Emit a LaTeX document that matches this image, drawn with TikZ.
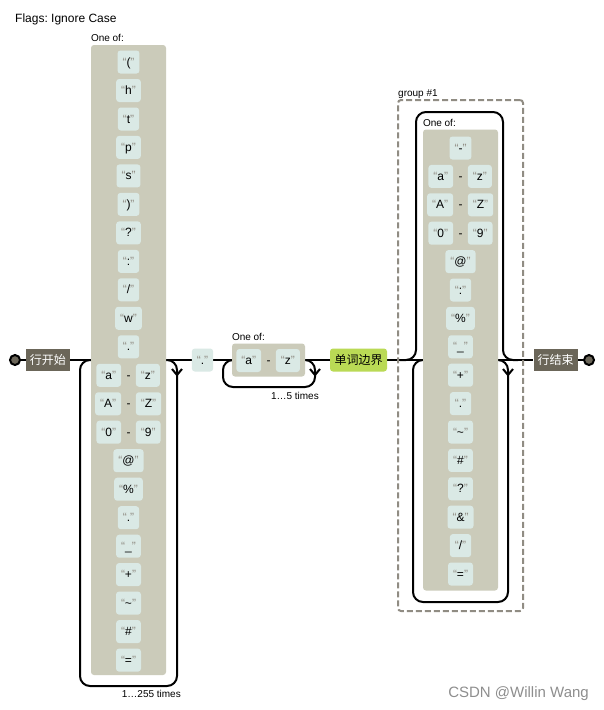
\documentclass[tikz,border=0pt]{standalone}
\usepackage{fontspec}
\setmainfont{Liberation Sans}
\newfontfamily\cjkfont{Noto Sans CJK SC}
\usetikzlibrary{calc}
\definecolor{charsetc}{HTML}{CBCBBA}
\definecolor{litc}{HTML}{DAE9E5}
\definecolor{anchorc}{HTML}{6B6659}
\definecolor{escc}{HTML}{BADA55}
\definecolor{quotec}{HTML}{908C83}
\definecolor{grpc}{HTML}{908C83}
\definecolor{wmc}{HTML}{8E8E8E}
\newcommand\qt[1]{{\color{quotec}“}#1{\color{quotec}”}}
\pgfdeclarelayer{bg}
\pgfsetlayers{bg,main}
\frenchspacing
\newcommand\rng[5]{%
  \node[dashn] (#1d) at (#2,#3) {-};
  \node[lit, anchor=east] (#1a) at ([xshift=-5pt]#1d.west) {\qt{#4}};
  \node[lit, anchor=west] (#1b) at ([xshift=5pt]#1d.east) {\qt{#5}};
}
\begin{document}
\begin{tikzpicture}[x=1pt,y=-1pt,
  line/.style={line width=2pt, draw=black},
  lit/.style={fill=litc, rounded corners=3pt, inner xsep=5pt, inner ysep=0pt,
    minimum height=23pt, text height=10pt, text depth=2pt,
    font=\fontsize{12}{14}\selectfont},
  dashn/.style={inner sep=0pt, text height=10pt, text depth=2pt,
    font=\fontsize{12}{14}\selectfont},
  charset/.style={fill=charsetc, rounded corners=3pt, inner sep=0pt},
  lbl/.style={inner sep=0pt, font=\fontsize{10}{12}\selectfont},
  anchorbox/.style={fill=anchorc, text=white, inner xsep=4pt, inner ysep=0pt,
    minimum height=22pt, text height=10pt, text depth=2pt,
    font=\cjkfont\fontsize{12}{14}\selectfont},
  escbox/.style={fill=escc, rounded corners=3pt, inner xsep=4.5pt, inner ysep=0pt,
    minimum height=23pt, text height=10pt, text depth=2pt,
    font=\cjkfont\fontsize{12}{14}\selectfont},
  endcirc/.style={circle, fill=anchorc, draw=black, line width=2pt,
    minimum size=10pt, inner sep=0pt},
  chev/.style={line width=2pt, draw=black}]

\begin{pgfonlayer}{bg}
\fill[white] (0,0) rectangle (604,710);
\end{pgfonlayer}
\useasboundingbox (0,0) rectangle (604,710);

% title
\node[anchor=base west, inner sep=0pt, font=\fontsize{12}{14}\selectfont] (flags) at (15,22) {Flags: Ignore Case};

% start / end
\node[endcirc] (startc) at (15,360) {};
\node[anchorbox] (s1) at (48,360) {行开始};
\node[anchorbox] (e1) at (555.5,360) {行结束};
\node[endcirc] (endc) at (589,360) {};

% ---------- left charset ----------
\node[charset, minimum width=75pt, minimum height=630pt] (G1) at (128.5,360) {};
\node[lbl, anchor=base west] (G1l) at ([yshift=3pt]G1.north west) {One of:};
\node[lit] (L0) at (128.5,62) {\qt{(}};
\node[lit] (L1) at (128.5,90.5) {\qt{h}};
\node[lit] (L2) at (128.5,119) {\qt{t}};
\node[lit] (L3) at (128.5,147.4) {\qt{p}};
\node[lit] (L4) at (128.5,175.9) {\qt{s}};
\node[lit] (L5) at (128.5,204.4) {\qt{)}};
\node[lit] (L6) at (128.5,232.9) {\qt{?}};
\node[lit] (L7) at (128.5,261.4) {\qt{:}};
\node[lit] (L8) at (128.5,289.8) {\qt{/}};
\node[lit] (L9) at (128.5,318.3) {\qt{w}};
\node[lit] (L10) at (128.5,346.8) {\qt{.}};
\rng{L11}{128.5}{375.3}{a}{z}
\rng{L12}{128.5}{403.8}{A}{Z}
\rng{L13}{128.5}{432.2}{0}{9}
\node[lit] (L14) at (128.5,460.7) {\qt{@}};
\node[lit] (L15) at (128.5,489.2) {\qt{\%}};
\node[lit] (L16) at (128.5,517.7) {\qt{.}};
\node[lit] (L17) at (128.5,546.2) {\qt{\_}};
\node[lit] (L18) at (128.5,574.6) {\qt{+}};
\node[lit] (L19) at (128.5,603.1) {\qt{\textasciitilde}};
\node[lit] (L20) at (128.5,631.6) {\qt{\#}};
\node[lit] (L21) at (128.5,660.1) {\qt{=}};
\node[lbl, anchor=base east] (rep1) at (181,697) {1…255 times};

% ---------- dot ----------
\node[lit] (dot) at (202.5,360) {\qt{.}};

% ---------- middle charset ----------
\node[charset, minimum width=73pt, minimum height=33pt] (G2) at (268.5,360) {};
\node[lbl, anchor=base west] (G2l) at ([yshift=2.5pt]G2.north west) {One of:};
\rng{M}{268.5}{360.5}{a}{z}
\node[lbl, anchor=base east] (rep2) at (319,399) {1…5 times};

% ---------- word boundary ----------
\node[escbox] (wb) at (358.5,360) {单词边界};

% ---------- group ----------
\node[draw=grpc, line width=2pt, dash pattern=on 6pt off 3pt, rounded corners=3pt,
  minimum width=125pt, minimum height=511pt, inner sep=0pt] (grp) at (460.5,355.5) {};
\node[lbl, anchor=base west] (grpl) at ([xshift=1pt,yshift=3pt]grp.north west) {group \#1};
\node[charset, minimum width=75pt, minimum height=461pt] (G3) at (460.5,360) {};
\node[lbl, anchor=base west] (G3l) at ([yshift=2.5pt]G3.north west) {One of:};
\node[lit] (R0) at (460.5,148) {\qt{-}};
\rng{R1}{460.5}{176.4}{a}{z}
\rng{R2}{460.5}{204.8}{A}{Z}
\rng{R3}{460.5}{233.2}{0}{9}
\node[lit] (R4) at (460.5,261.6) {\qt{@}};
\node[lit] (R5) at (460.5,290) {\qt{:}};
\node[lit] (R6) at (460.5,318.4) {\qt{\%}};
\node[lit] (R7) at (460.5,346.8) {\qt{\_}};
\node[lit] (R8) at (460.5,375.2) {\qt{+}};
\node[lit] (R9) at (460.5,403.6) {\qt{.}};
\node[lit] (R10) at (460.5,432) {\qt{\textasciitilde}};
\node[lit] (R11) at (460.5,460.4) {\qt{\#}};
\node[lit] (R12) at (460.5,488.8) {\qt{?}};
\node[lit] (R13) at (460.5,517.2) {\qt{\&}};
\node[lit] (R14) at (460.5,545.6) {\qt{/}};
\node[lit] (R15) at (460.5,574) {\qt{=}};

% watermark
\node[anchor=base east, inner sep=0pt, text=wmc, font=\fontsize{15}{17}\selectfont] (wm) at (589,697) {CSDN @Willin Wang};

% ---------- connectors (behind) ----------
\begin{pgfonlayer}{bg}
\draw[line] (startc) -- (s1);
\draw[line] (s1) -- (G1);
\draw[line] (G1) -- (dot);
\draw[line] (dot) -- (G2);
\draw[line] (G2) -- (wb);
\draw[line] (wb) -- (G3);
\draw[line] (G3) -- (e1);
\draw[line] (e1) -- (endc);
% left loop
\coordinate (l1a) at (177,360);
\coordinate (l1b) at (177,686);
\coordinate (l1c) at (80,686);
\coordinate (l1d) at (80,360);
\draw[line, rounded corners=10pt] (G1.east) -- (l1a) -- (l1b) -- (l1c) -- (l1d) -- (G1.west);
% middle loop
\coordinate (l2a) at (315,360);
\coordinate (l2b) at (315,387);
\coordinate (l2c) at (223,387);
\coordinate (l2d) at (223,360);
\draw[line, rounded corners=10pt] (G2.east) -- (l2a) -- (l2b) -- (l2c) -- (l2d) -- (G2.west);
% group skip (top)
\coordinate (k0) at (400,360);
\coordinate (k1) at (416,360);
\coordinate (k2) at (416,112);
\coordinate (k3) at (503,112);
\coordinate (k4) at (503,360);
\coordinate (k5) at (518,360);
\draw[line, rounded corners=10pt] (k0) -- (k1) -- (k2) -- (k3) -- (k4) -- (k5);
% group loop (bottom)
\coordinate (l3a) at (508,360);
\coordinate (l3b) at (508,602);
\coordinate (l3c) at (413,602);
\coordinate (l3d) at (413,360);
\draw[line, rounded corners=10pt] (G3.east) -- (l3a) -- (l3b) -- (l3c) -- (l3d) -- (G3.west);
\end{pgfonlayer}
% chevrons
\draw[chev] (172,369) -- (177,375) -- (182,369);
\draw[chev] (310,369) -- (315,375) -- (320,369);
\draw[chev] (503,369) -- (508,375) -- (513,369);
\end{tikzpicture}
\end{document}
